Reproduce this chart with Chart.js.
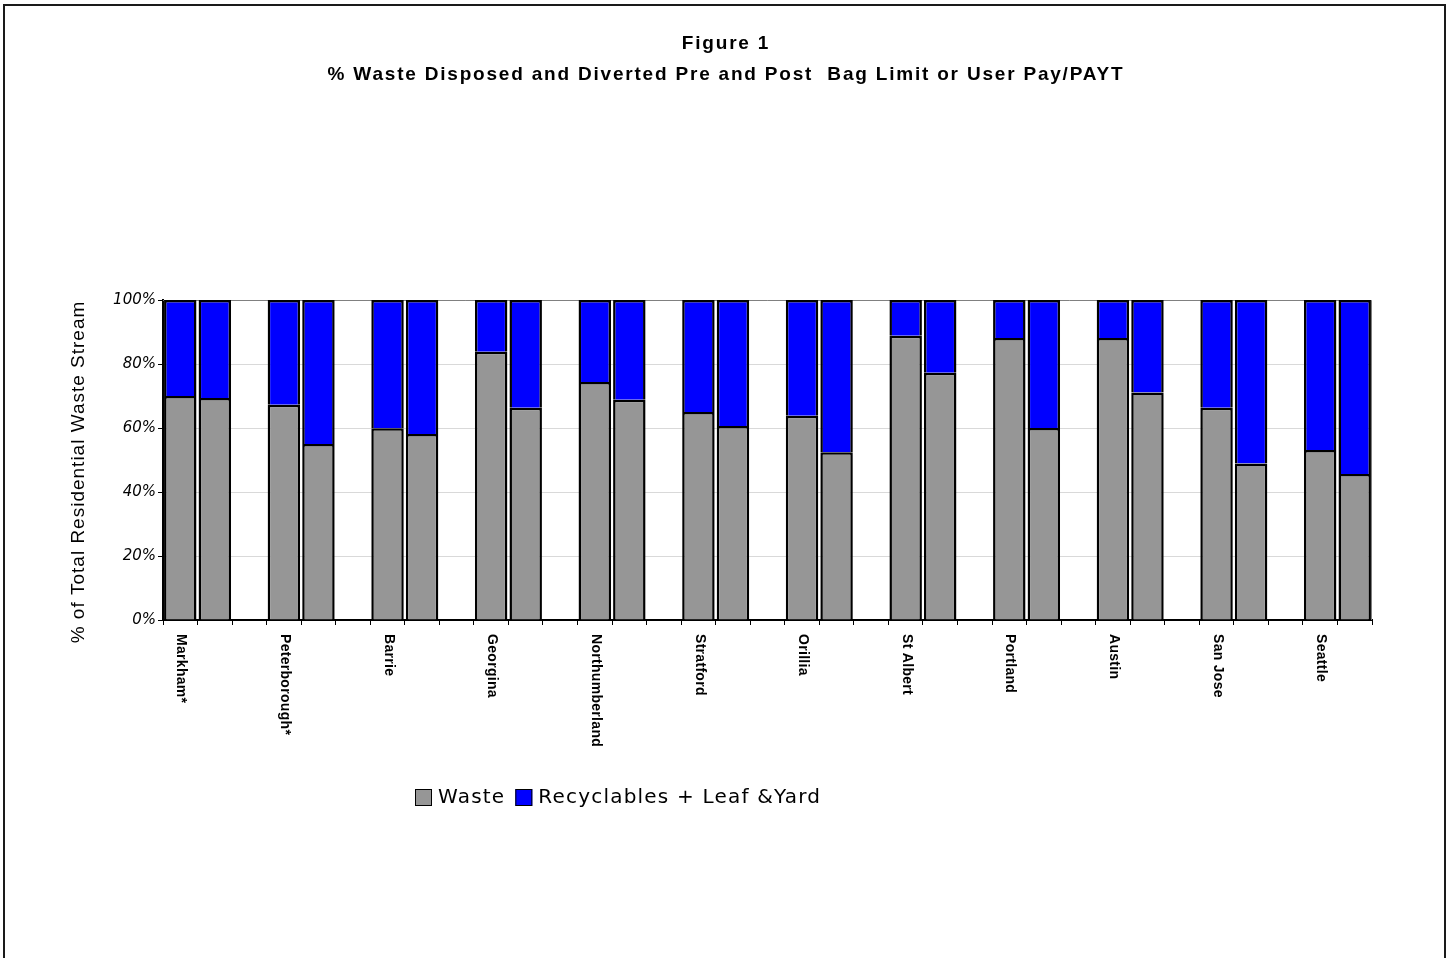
<!DOCTYPE html>
<html>
<head>
<meta charset="utf-8">
<title>Figure 1</title>
<script src="https://cdn.jsdelivr.net/npm/chart.js@4.4.1/dist/chart.umd.min.js"></script>
<style>
  html, body { margin: 0; padding: 0; background: #ffffff; }
  #wrap { width: 1450px; height: 958px; position: relative; }
</style>
</head>
<body>
<div id="wrap"><canvas id="chart" width="1450" height="958"></canvas></div>
<script>
// Municipalities, each with a "pre" and a "post" bag-limit / PAYT bar
const cities = ['Markham*', 'Peterborough*', 'Barrie', 'Georgina', 'Northumberland', 'Stratford',
                'Orillia', 'St Albert', 'Portland', 'Austin', 'San Jose', 'Seattle'];

// Share of residential stream disposed as waste (%)
const wastePre  = [70.0, 67.3, 59.9, 83.8, 74.4, 65.0, 63.8, 88.8, 88.1, 88.1, 66.3, 53.1];
const wastePost = [69.4, 55.0, 58.1, 66.3, 68.8, 60.6, 52.4, 77.3, 60.0, 71.1, 48.9, 45.6];

// Share diverted as recyclables + leaf & yard (%)
const divertedPre  = [30.0, 32.7, 40.1, 16.2, 25.6, 35.0, 36.2, 11.2, 11.9, 11.9, 33.7, 46.9];
const divertedPost = [30.6, 45.0, 41.9, 33.7, 31.2, 39.4, 47.6, 22.7, 40.0, 28.9, 51.1, 54.4];

const seriesNames = ['Waste', 'Recyclables + Leaf &Yard'];
const yTickValues = [0, 20, 40, 60, 80, 100];

const titleLines = ['Figure 1', '% Waste Disposed and Diverted Pre and Post  Bag Limit or User Pay/PAYT'];
const yAxisTitle = '% of Total Residential Waste Stream';

// Category slots: pre, post, then an empty spacer between cities
const slotLabels = [], wasteSlots = [], divertedSlots = [];
cities.forEach((city, i) => {
  slotLabels.push(city, '');
  wasteSlots.push(wastePre[i], wastePost[i]);
  divertedSlots.push(divertedPre[i], divertedPost[i]);
  if (i < cities.length - 1) {
    slotLabels.push('');
    wasteSlots.push(null);
    divertedSlots.push(null);
  }
});

const decorations = {
  id: 'decorations',
  beforeDatasetsDraw(chart) {
    const { ctx, chartArea: a } = chart;
    ctx.save();
    ctx.strokeStyle = '#808080';
    ctx.lineWidth = 1;
    ctx.beginPath();
    ctx.moveTo(a.left, a.top + 0.5);
    ctx.lineTo(a.right - 0.5, a.top + 0.5);
    ctx.lineTo(a.right - 0.5, a.bottom);
    ctx.stroke();
    ctx.restore();
  },
  afterDraw(chart) {
    const { ctx, chartArea: a } = chart;
    const xs = chart.scales.x;
    ctx.save();

    // Heading
    ctx.fillStyle = '#000';
    ctx.textAlign = 'center';
    ctx.textBaseline = 'middle';
    ctx.font = 'bold 19px "Liberation Sans", Arial, sans-serif';
    ctx.letterSpacing = '1.8px';
    ctx.fillText(titleLines[0], 726, 44);
    ctx.fillText(titleLines[1], 726, 75);

    // Vertical axis title
    ctx.save();
    ctx.translate(79, (a.top + a.bottom) / 2 + 12);
    ctx.rotate(-Math.PI / 2);
    ctx.font = '19px "Liberation Sans", Arial, sans-serif';
    ctx.letterSpacing = '1px';
    ctx.fillText(yAxisTitle, 0, 0);
    ctx.restore();

    // City names, rotated to read downward under the first bar of each pair
    ctx.font = 'bold 14px "Liberation Sans", Arial, sans-serif';
    ctx.letterSpacing = '0.3px';
    ctx.textAlign = 'left';
    ctx.textBaseline = 'middle';
    slotLabels.forEach((lab, i) => {
      if (!lab) return;
      const x = xs.getPixelForValue(i);
      ctx.save();
      ctx.translate(x + 1, a.bottom + 14);
      ctx.rotate(Math.PI / 2);
      ctx.fillText(lab, 0, 0);
      ctx.restore();
    });

    // Legend
    ctx.font = '20px "DejaVu Sans", sans-serif';
    ctx.letterSpacing = '1.2px';
    ctx.textAlign = 'left';
    let lx = 415;
    const ly = 797;
    chart.data.datasets.forEach((ds, i) => {
      ctx.fillStyle = ds.backgroundColor;
      ctx.fillRect(lx, ly - 8, 17, 17);
      ctx.strokeStyle = '#000';
      ctx.lineWidth = 1;
      ctx.strokeRect(lx + 0.5, ly - 7.5, 16, 16);
      ctx.fillStyle = '#000';
      ctx.fillText(ds.label, lx + 23, ly + 1);
      lx += 23 + ctx.measureText(ds.label).width + 10;
    });

    // Outer frame
    ctx.letterSpacing = '0px';
    ctx.strokeStyle = '#1a1a1a';
    ctx.lineWidth = 2;
    ctx.strokeRect(4, 5, 1441, 960);
    ctx.restore();
  }
};

new Chart(document.getElementById('chart'), {
  type: 'bar',
  data: {
    labels: slotLabels,
    datasets: [
      {
        label: seriesNames[0],
        data: wasteSlots,
        backgroundColor: '#969696',
        borderColor: '#000000',
        borderWidth: 2.5,
        barPercentage: 0.94,
        categoryPercentage: 1.0
      },
      {
        label: seriesNames[1],
        data: divertedSlots,
        backgroundColor: '#0000ff',
        borderColor: '#000000',
        borderWidth: 2.5,
        barPercentage: 0.94,
        categoryPercentage: 1.0
      }
    ]
  },
  options: {
    responsive: false,
    animation: false,
    layout: { padding: { top: 300, right: 78, bottom: 308, left: 0 } },
    plugins: {
      legend: { display: false },
      title: { display: false },
      tooltip: { enabled: false }
    },
    scales: {
      x: {
        stacked: true,
        offset: true,
        grid: {
          offset: true,
          drawOnChartArea: false,
          drawTicks: true,
          tickLength: 5,
          tickColor: '#000',
          tickWidth: 1
        },
        border: { display: true, color: '#000', width: 2 },
        ticks: { display: false },
        afterFit(scale) { scale.height = 30; }
      },
      y: {
        stacked: true,
        min: 0,
        max: 100,
        afterBuildTicks(scale) { scale.ticks = yTickValues.map(v => ({ value: v })); },
        ticks: {
          callback: v => v + '%',
          color: '#000',
          padding: 2,
          font: { family: '"DejaVu Sans", sans-serif', style: 'italic', size: 15 }
        },
        grid: {
          color: '#d9d9d9',
          lineWidth: 1,
          drawTicks: true,
          tickLength: 5,
          tickColor: '#000',
          tickWidth: 1
        },
        border: { display: true, color: '#000', width: 2 },
        afterFit(scale) { scale.width = 163; }
      }
    }
  },
  plugins: [decorations]
});
</script>
</body>
</html>
